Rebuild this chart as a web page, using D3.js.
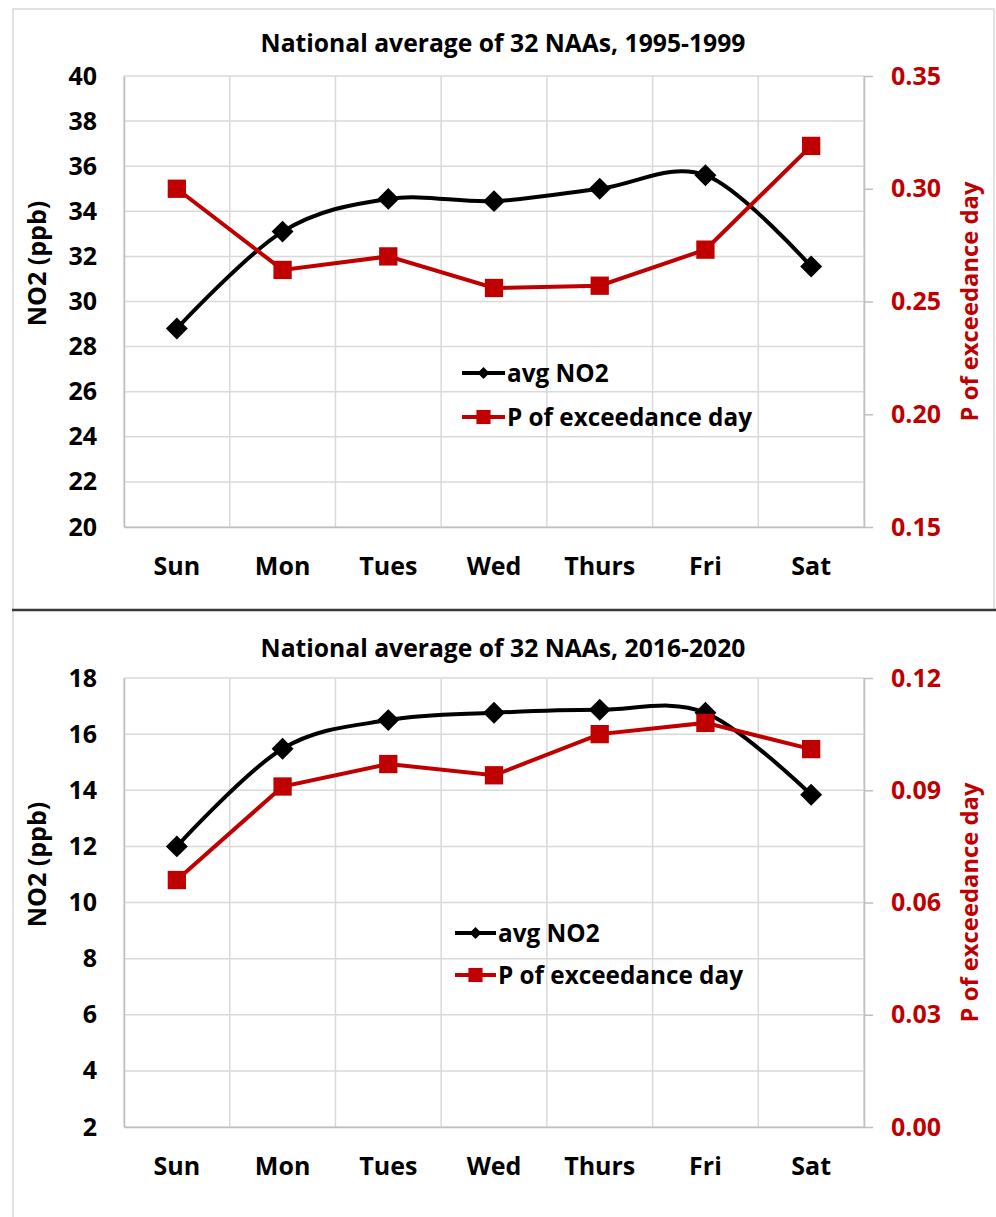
<!DOCTYPE html>
<html>
<head>
<meta charset="utf-8">
<script src="https://cdn.jsdelivr.net/npm/d3@7"></script>
<style>
    body { margin: 0; background: #fff; }
    text { font-family: "Open Sans", sans-serif; font-weight: bold; }
</style>
</head>
<body>
<div id="chart"></div>
<script>
// values
var days = ["Sun", "Mon", "Tues", "Wed", "Thurs", "Fri", "Sat"];

var no2_1995 = [28.8, 33.1, 34.55, 34.45, 35.0, 35.6, 31.55];
var pExceed_1995 = [0.300, 0.264, 0.270, 0.256, 0.257, 0.273, 0.319];
var leftTicks_1995 = [20, 22, 24, 26, 28, 30, 32, 34, 36, 38, 40];
var rightTicks_1995 = [0.15, 0.20, 0.25, 0.30, 0.35];

var no2_2016 = [12.0, 15.48, 16.5, 16.76, 16.87, 16.76, 13.84];
var pExceed_2016 = [0.066, 0.091, 0.097, 0.094, 0.105, 0.108, 0.101];
var leftTicks_2016 = [2, 4, 6, 8, 10, 12, 14, 16, 18];
var rightTicks_2016 = [0.00, 0.03, 0.06, 0.09, 0.12];

var seriesNames = ["avg NO2", "P of exceedance day"];

var red = "#c00000";
var gridColor = "#d9d9d9";

var svg = d3.select("#chart").append("svg").attr("width", 996).attr("height", 1217);

// frames round the panels
svg.append("rect").attr("x", 13).attr("y", 9).attr("width", 981).attr("height", 601)
    .attr("fill", "none").attr("stroke", gridColor).attr("stroke-width", 1.5);
svg.append("line").attr("x1", 13).attr("x2", 13).attr("y1", 610).attr("y2", 1217)
    .attr("stroke", gridColor).attr("stroke-width", 1.5);
svg.append("line").attr("x1", 12).attr("x2", 996).attr("y1", 610).attr("y2", 610)
    .attr("stroke", "#3a3a3a").attr("stroke-width", 2.5);

function drawChart(cfg) {
    var left = 124, right = 864;
    var x = d3.scaleBand().domain(days).range([left, right]);
    var y = d3.scaleLinear().domain(cfg.leftDomain).range([cfg.bottom, cfg.top]);
    var yR = d3.scaleLinear().domain(cfg.rightDomain).range([cfg.bottom, cfg.top]);
    var g = svg.append("g");

    // grid
    g.selectAll(".hgrid").data(cfg.leftTicks).enter().append("line")
        .attr("x1", left).attr("x2", right)
        .attr("y1", function (d) { return y(d) }).attr("y2", function (d) { return y(d) })
        .attr("stroke", gridColor).attr("stroke-width", 1.5);
    var edges = days.map(function (d) { return x(d) }).concat([right]);
    g.selectAll(".vgrid").data(edges).enter().append("line")
        .attr("x1", function (d) { return d }).attr("x2", function (d) { return d })
        .attr("y1", cfg.top).attr("y2", cfg.bottom)
        .attr("stroke", gridColor).attr("stroke-width", 1.5);

    // axes
    var yAxis = g.append("g").attr("transform", "translate(" + left + ",0)")
        .call(d3.axisLeft(y).tickValues(cfg.leftTicks).tickSize(0).tickPadding(27));
    var yAxisR = g.append("g").attr("transform", "translate(" + right + ",0)")
        .call(d3.axisRight(yR).tickValues(cfg.rightTicks).tickFormat(d3.format(".2f"))
            .tickSizeInner(9).tickSizeOuter(0).tickPadding(18));
    var xAxis = g.append("g").attr("transform", "translate(0," + cfg.bottom + ")")
        .call(d3.axisBottom(x).tickSize(0).tickPadding(30));
    [yAxis, yAxisR, xAxis].forEach(function (a) {
        a.select(".domain").attr("stroke", "#bfbfbf").attr("stroke-width", 1.5);
        a.selectAll("text").attr("font-size", 25).attr("font-family", "Open Sans").attr("font-weight", "bold");
    });
    yAxis.selectAll("text").attr("fill", "#000");
    xAxis.selectAll("text").attr("fill", "#000");
    yAxisR.selectAll("text").attr("fill", red);
    yAxisR.selectAll(".tick line").attr("stroke", "#bfbfbf").attr("stroke-width", 1.5);

    // titles
    g.append("text").attr("x", 503).attr("y", cfg.titleY).attr("text-anchor", "middle")
        .attr("font-size", 24.7).attr("fill", "#000").text(cfg.title);
    var midY = (cfg.top + cfg.bottom) / 2;
    g.append("text").attr("transform", "translate(46," + (midY - 38) + ") rotate(-90)")
        .attr("text-anchor", "middle").attr("font-size", 25).attr("fill", "#000").text("NO2 (ppb)");
    g.append("text").attr("transform", "translate(978," + midY + ") rotate(-90)")
        .attr("text-anchor", "middle").attr("font-size", 23.8).attr("fill", red).text("P of exceedance day");

    var cx = function (d, i) { return x(days[i]) + x.bandwidth() / 2 };

    // avg NO2, excel smoothed line
    g.append("path").datum(cfg.no2).attr("fill", "none").attr("stroke", "#000").attr("stroke-width", 4)
        .attr("d", d3.line().curve(d3.curveCardinal.tension(0)).x(cx).y(function (d) { return y(d) }));
    g.selectAll(".dia").data(cfg.no2).enter().append("path")
        .attr("d", d3.symbol().type(d3.symbolSquare).size(240))
        .attr("transform", function (d, i) { return "translate(" + cx(d, i) + "," + y(d) + ") rotate(45)" })
        .attr("fill", "#000");

    // P of exceedance, straight
    g.append("path").datum(cfg.pEx).attr("fill", "none").attr("stroke", red).attr("stroke-width", 4)
        .attr("d", d3.line().x(cx).y(function (d) { return yR(d) }));
    g.selectAll(".sq").data(cfg.pEx).enter().append("path")
        .attr("d", d3.symbol().type(d3.symbolSquare).size(335))
        .attr("transform", function (d, i) { return "translate(" + cx(d, i) + "," + yR(d) + ")" })
        .attr("fill", red);

    // legend
    var lg = cfg.legend;
    var legRows = [
        { name: seriesNames[0], color: "#000", y: lg.y1, sym: "dia" }
        , { name: seriesNames[1], color: red, y: lg.y2, sym: "sq" }];
    legRows.forEach(function (r) {
        g.append("line").attr("x1", lg.x0).attr("x2", lg.x1).attr("y1", r.y).attr("y2", r.y)
            .attr("stroke", r.color).attr("stroke-width", 4);
        var mx = (lg.x0 + lg.x1) / 2;
        if (r.sym == "dia") {
            g.append("path").attr("d", d3.symbol().type(d3.symbolSquare).size(72))
                .attr("transform", "translate(" + mx + "," + r.y + ") rotate(45)").attr("fill", r.color);
        }
        else {
            g.append("path").attr("d", d3.symbol().type(d3.symbolSquare).size(200))
                .attr("transform", "translate(" + mx + "," + r.y + ")").attr("fill", r.color);
        }
        g.append("text").attr("x", lg.x1 + 2).attr("y", r.y).attr("dy", "0.36em")
            .attr("font-size", 24.3).attr("fill", "#000").text(r.name);
    });
}

drawChart({
    title: "National average of 32 NAAs, 1995-1999"
    , titleY: 52
    , top: 76
    , bottom: 527
    , leftDomain: [20, 40]
    , rightDomain: [0.15, 0.35]
    , leftTicks: leftTicks_1995
    , rightTicks: rightTicks_1995
    , no2: no2_1995
    , pEx: pExceed_1995
    , legend: { x0: 462, x1: 505, y1: 373, y2: 417 }
});

drawChart({
    title: "National average of 32 NAAs, 2016-2020"
    , titleY: 657
    , top: 678
    , bottom: 1127
    , leftDomain: [2, 18]
    , rightDomain: [0, 0.12]
    , leftTicks: leftTicks_2016
    , rightTicks: rightTicks_2016
    , no2: no2_2016
    , pEx: pExceed_2016
    , legend: { x0: 455, x1: 496, y1: 933, y2: 975 }
});
</script>
</body>
</html>
